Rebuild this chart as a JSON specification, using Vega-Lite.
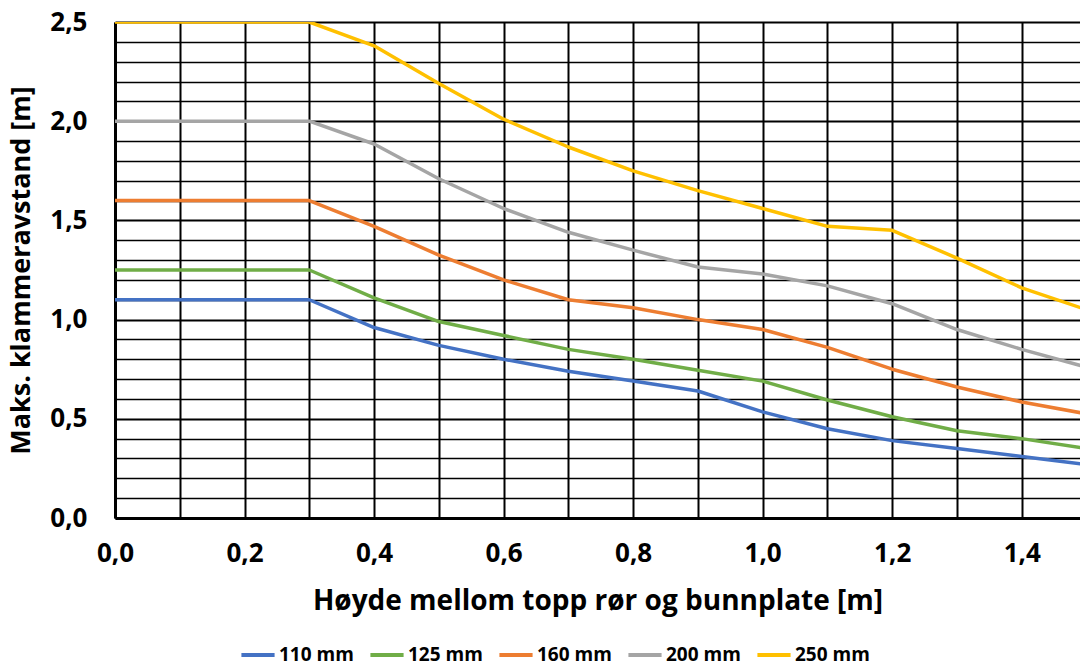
{
  "$schema": "https://vega.github.io/schema/vega-lite/v6.json",
  "autosize": "none",
  "width": 965,
  "height": 496,
  "padding": {"left": 115, "top": 22, "right": 0, "bottom": 148},
  "background": "white",
  "config": {
    "font": "Open Sans",
    "view": {"stroke": null},
    "axis": {"labelFont": "Open Sans", "titleFont": "Open Sans", "labelFontWeight": "bold", "titleFontWeight": "bold", "labelColor": "#000", "titleColor": "#000"}
  },
  "data": {
    "values": [
      {"x": 0.0, "110 mm": 1.1, "125 mm": 1.25, "160 mm": 1.6, "200 mm": 2.0, "250 mm": 2.5},
      {"x": 0.1, "110 mm": 1.1, "125 mm": 1.25, "160 mm": 1.6, "200 mm": 2.0, "250 mm": 2.5},
      {"x": 0.2, "110 mm": 1.1, "125 mm": 1.25, "160 mm": 1.6, "200 mm": 2.0, "250 mm": 2.5},
      {"x": 0.3, "110 mm": 1.1, "125 mm": 1.25, "160 mm": 1.6, "200 mm": 2.0, "250 mm": 2.5},
      {"x": 0.4, "110 mm": 0.96, "125 mm": 1.11, "160 mm": 1.47, "200 mm": 1.885, "250 mm": 2.38},
      {"x": 0.5, "110 mm": 0.87, "125 mm": 0.99, "160 mm": 1.325, "200 mm": 1.71, "250 mm": 2.19},
      {"x": 0.6, "110 mm": 0.8, "125 mm": 0.92, "160 mm": 1.2, "200 mm": 1.56, "250 mm": 2.01},
      {"x": 0.7, "110 mm": 0.74, "125 mm": 0.85, "160 mm": 1.1, "200 mm": 1.44, "250 mm": 1.87},
      {"x": 0.8, "110 mm": 0.69, "125 mm": 0.8, "160 mm": 1.06, "200 mm": 1.35, "250 mm": 1.75},
      {"x": 0.9, "110 mm": 0.64, "125 mm": 0.745, "160 mm": 1.0, "200 mm": 1.265, "250 mm": 1.65},
      {"x": 1.0, "110 mm": 0.535, "125 mm": 0.69, "160 mm": 0.95, "200 mm": 1.23, "250 mm": 1.56},
      {"x": 1.1, "110 mm": 0.45, "125 mm": 0.595, "160 mm": 0.86, "200 mm": 1.17, "250 mm": 1.47},
      {"x": 1.2, "110 mm": 0.39, "125 mm": 0.51, "160 mm": 0.75, "200 mm": 1.08, "250 mm": 1.45},
      {"x": 1.3, "110 mm": 0.35, "125 mm": 0.44, "160 mm": 0.66, "200 mm": 0.95, "250 mm": 1.31},
      {"x": 1.4, "110 mm": 0.31, "125 mm": 0.4, "160 mm": 0.585, "200 mm": 0.85, "250 mm": 1.16},
      {"x": 1.5, "110 mm": 0.27, "125 mm": 0.35, "160 mm": 0.525, "200 mm": 0.76, "250 mm": 1.05}
    ]
  },
  "transform": [
    {"fold": ["110 mm", "125 mm", "160 mm", "200 mm", "250 mm"], "as": ["serie", "v"]}
  ],
  "mark": {"type": "line", "strokeWidth": 3.5, "clip": true, "strokeJoin": "round"},
  "encoding": {
    "x": {
      "field": "x", "type": "quantitative",
      "scale": {"domain": [0, 1.49], "nice": false, "zero": false},
      "axis": {
        "values": [0, 0.1, 0.2, 0.3, 0.4, 0.5, 0.6, 0.7, 0.8, 0.9, 1.0, 1.1, 1.2, 1.3, 1.4],
        "labelExpr": "round(datum.value*10) % 2 == 0 ? replace(format(datum.value, '.1f'), '.', ',') : ''",
        "labelFlush": false,
        "title": "Høyde mellom topp rør og bunnplate [m]",
        "titleFontSize": 28, "labelFontSize": 26,
        "labelPadding": 22, "titlePadding": 21,
        "ticks": false,
        "grid": true, "gridColor": "#000", "gridWidth": 2, "gridOpacity": 1,
        "domain": true, "domainColor": "#000", "domainWidth": 3,
        "zindex": 0
      }
    },
    "y": {
      "field": "v", "type": "quantitative",
      "scale": {"domain": [0, 2.5], "nice": false},
      "axis": {
        "values": [0, 0.1, 0.2, 0.3, 0.4, 0.5, 0.6, 0.7, 0.8, 0.9, 1.0, 1.1, 1.2, 1.3, 1.4, 1.5, 1.6, 1.7, 1.8, 1.9, 2.0, 2.1, 2.2, 2.3, 2.4, 2.5],
        "labelExpr": "round(datum.value*10) % 5 == 0 ? replace(format(datum.value, '.1f'), '.', ',') : ''",
        "labelFlush": false,
        "title": "Maks. klammeravstand [m]",
        "titleFontSize": 27, "labelFontSize": 26,
        "labelPadding": 28, "titlePadding": 14,
        "ticks": false,
        "grid": true, "gridColor": "#000", "gridOpacity": 1,
        "gridWidth": {"condition": {"test": "round(datum.value*10) % 5 == 0", "value": 2.2}, "value": 1.4},
        "domain": true, "domainColor": "#000", "domainWidth": 3,
        "zindex": 0
      }
    },
    "color": {
      "field": "serie", "type": "nominal",
      "scale": {
        "domain": ["110 mm", "125 mm", "160 mm", "200 mm", "250 mm"],
        "range": ["#4472C4", "#70AD47", "#ED7D31", "#A5A5A5", "#FFC000"]
      },
      "legend": {
        "title": null,
        "orient": "none",
        "direction": "horizontal",
        "legendX": 124,
        "legendY": 614,
        "symbolType": "stroke",
        "symbolSize": 1100,
        "symbolStrokeWidth": 4,
        "labelFont": "Open Sans",
        "labelFontWeight": "bold",
        "labelFontSize": 19,
        "labelColor": "#000",
        "labelOffset": 2,
        "columnPadding": 8
      }
    }
  }
}
